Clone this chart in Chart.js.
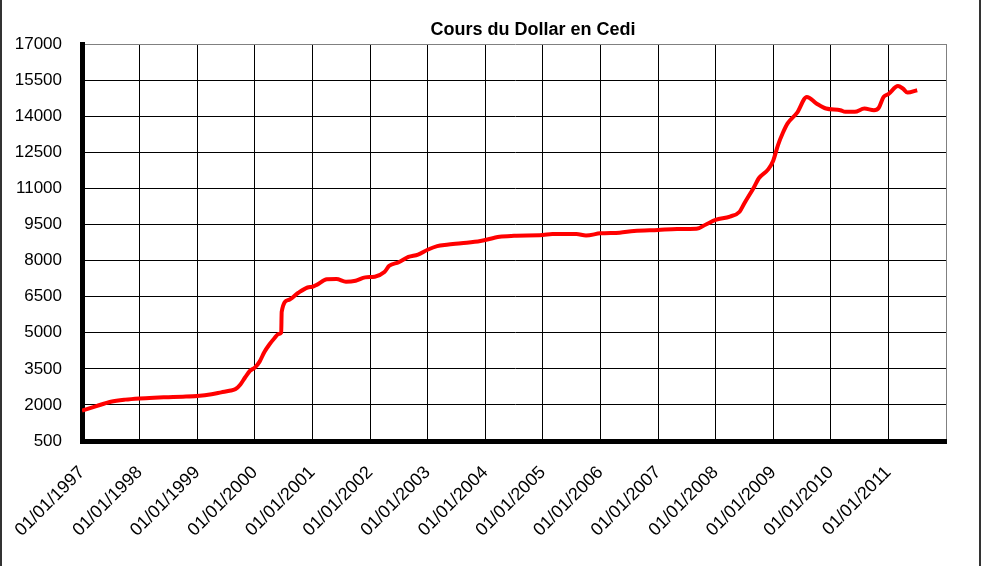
<!DOCTYPE html>
<html><head><meta charset="utf-8">
<script src="https://cdn.jsdelivr.net/npm/chart.js@4"></script>
<style>
html,body{margin:0;padding:0;background:#fff;overflow:hidden}
#wrap{position:relative;width:981px;height:566px}
#frame{position:absolute;left:0;top:0;width:981px;height:566px;box-sizing:border-box;border-left:2px solid #333;border-right:2px solid #333;pointer-events:none}
</style></head><body>
<div id="wrap"><canvas id="c" width="981" height="566"></canvas><div id="frame"></div></div>
<script>
const chartTitle = 'Cours du Dollar en Cedi';
// x tick positions (months since 01/01/1997) and labels
const xTickMonths = [0,12,24,36,48,60,72,84,96,108,120,132,144,156,168,180];
const xTickLabels = ['01/01/1997','01/01/1998','01/01/1999','01/01/2000','01/01/2001','01/01/2002','01/01/2003','01/01/2004','01/01/2005','01/01/2006','01/01/2007','01/01/2008','01/01/2009','01/01/2010','01/01/2011',''];
const yTickValues = [500,2000,3500,5000,6500,8000,9500,11000,12500,14000,15500,17000];
// series: months since 01/01/1997 and rate in cedi per dollar
const months = [0,3,6,9,12,15,18,21,24,27,29,31,32,33,34,35,36,37,38,39,40,41,41.5,41.6,43,45,47,48,49,51,53,55,57,59,61,63,64,66,68,70,72,74,76,79,83,87,90,96,98,103,105,108,112,115,120,124,128,130,132,135,137,138,140,141,143,144,145,146,147,149,151,153,155,158,159,161,163,165,166,167,168,170,171,172,174];
const cedi = [1760,1950,2130,2220,2270,2300,2320,2340,2370,2440,2520,2600,2660,2850,3150,3420,3550,3800,4200,4500,4750,4950,5000,5870,6360,6650,6880,6910,7000,7220,7230,7120,7160,7300,7330,7520,7780,7930,8150,8250,8450,8600,8660,8720,8810,8990,9030,9060,9100,9100,9040,9130,9160,9225,9270,9310,9320,9500,9690,9830,10030,10380,11050,11420,11800,12150,12800,13300,13700,14150,14800,14530,14320,14250,14180,14180,14320,14250,14350,14800,14920,15250,15150,14980,15080];

const FONT = "'Liberation Sans', Arial, sans-serif";
const titleShift = {
  id: 'titleShift',
  afterLayout(chart) {
    const t = chart.titleBlock; if (!t) return;
    const d = 533 - (t.left + t.right) / 2;
    t.left += d; t.right += d;
  }
};

new Chart(document.getElementById('c'), {
  type: 'line',
  data: {
    datasets: [{
      label: chartTitle,
      data: months.map((m, i) => ({x: m, y: cedi[i]})),
      borderColor: '#ff0000',
      borderWidth: 4,
      pointRadius: 0,
      fill: false,
      cubicInterpolationMode: 'monotone'
    }]
  },
  options: {
    responsive: false,
    animation: false,
    devicePixelRatio: 1,
    layout: {padding: {left: 0, right: 35, top: 0, bottom: 0}},
    plugins: {
      legend: {display: false},
      tooltip: {enabled: false},
      title: {display: true, text: chartTitle, color: '#000',
        font: {family: FONT, size: 18, weight: 'bold'},
        padding: {top: 19, bottom: 3.4}}
    },
    scales: {
      x: {
        type: 'linear', min: 0, max: 180,
        afterBuildTicks: s => { s.ticks = xTickMonths.map(v => ({value: v})); },
        afterFit: s => { s.height = 125; s.paddingLeft = 0; s.paddingRight = 0; },
        ticks: {autoSkip: false, maxRotation: 45, minRotation: 45, padding: 21, color: '#000',
          font: {family: FONT, size: 18},
          callback: (v) => xTickLabels[xTickMonths.indexOf(v)] ?? ''},
        grid: {drawTicks: false, lineWidth: 1,
          color: c => (c.tick && c.tick.value === 180) ? '#808080' : '#000'},
        border: {color: '#000', width: 5}
      },
      y: {
        min: 500, max: 17000,
        afterBuildTicks: s => { s.ticks = yTickValues.map(v => ({value: v})); },
        afterFit: s => { s.width = 82; s.paddingTop = 0; s.paddingBottom = 0; },
        ticks: {padding: 20, color: '#000', font: {family: FONT, size: 17},
          callback: v => String(v)},
        grid: {drawTicks: false, lineWidth: 1,
          color: c => (c.tick && c.tick.value === 17000) ? '#808080' : '#000'},
        border: {color: '#000', width: 5}
      }
    }
  },
  plugins: [titleShift]
});
</script>
</body></html>
